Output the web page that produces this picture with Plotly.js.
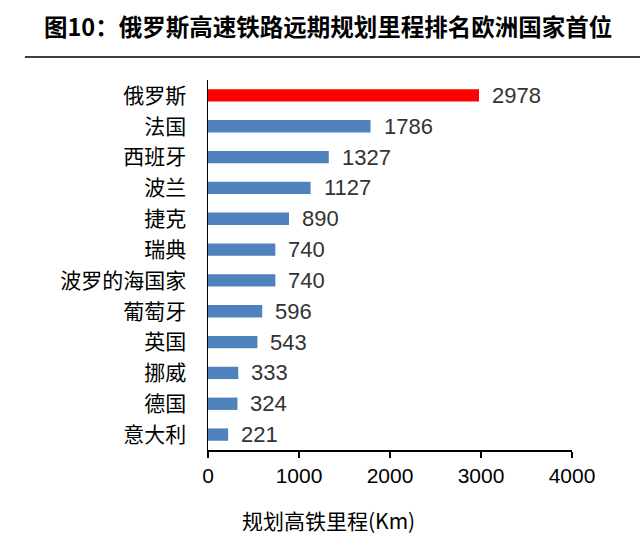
<!DOCTYPE html>
<html><head><meta charset="utf-8">
<script src="https://cdn.plot.ly/plotly-3.0.1.min.js"></script>
<style>html,body{margin:0;padding:0;background:#fff}</style>
</head><body>
<div id="chart" style="width:640px;height:556px"></div>
<script>
const categories = ["俄罗斯","法国","西班牙","波兰","捷克","瑞典","波罗的海国家","葡萄牙","英国","挪威","德国","意大利"];
const mileage = [2978,1786,1327,1127,890,740,740,596,543,333,324,221];
const tickVals = [0,1000,2000,3000,4000];
const titleText = "图<b>10</b>：俄罗斯高速铁路远期规划里程排名欧洲国家首位";
const xTitle = "规划高铁里程(Km)";

const colors = categories.map((c,i)=> i===0 ? "#FF0000" : "#4F81BD");
const cjk = '"Noto Sans CJK SC", "Liberation Sans", sans-serif';
const arial = '"Liberation Sans", Arial, sans-serif';

const trace = {
  type: "bar", orientation: "h",
  x: mileage, y: categories,
  marker: {color: colors},
  width: 0.4,
  hoverinfo: "none"
};

const annotations = categories.map((c,i)=>({
  x: mileage[i], y: c, xref: "x", yref: "y",
  text: String(mileage[i]), showarrow: false,
  xanchor: "left", xshift: 11,
  font: {family: arial, size: 22, color: "#333333"}
}));
annotations.push({
  xref: "paper", yref: "paper", x: 0.33, y: -0.19,
  xanchor: "center", yanchor: "middle",
  text: xTitle, showarrow: false,
  font: {family: cjk, size: 21, color: "#000"}
});
annotations.push({
  xref: "paper", yref: "paper", x: 0.33, y: 1.145,
  xanchor: "center", yanchor: "middle",
  text: titleText, showarrow: false,
  font: {family: cjk, size: 23.5, color: "#000", weight: "bold"}
});

const layout = {
  width: 640, height: 556,
  margin: {l: 208, r: 68, t: 80, b: 106},
  paper_bgcolor: "#fff", plot_bgcolor: "#fff",
  showlegend: false,
  xaxis: {
    range: [0, 4000], tickvals: tickVals, ticktext: tickVals.map(String),
    showgrid: false, zeroline: false,
    showline: true, linecolor: "#000", linewidth: 1.5,
    ticks: "outside", ticklen: 6, tickcolor: "#000", tickwidth: 1.5,
    tickfont: {family: arial, size: 21, color: "#000"},
    fixedrange: true
  },
  yaxis: {
    autorange: "reversed",
    showgrid: false, zeroline: false,
    showline: true, linecolor: "#000", linewidth: 1.5,
    ticks: "", ticklabelstandoff: 16,
    tickfont: {family: cjk, size: 21, color: "#000"},
    fixedrange: true
  },
  shapes: [{
    type: "line", xref: "paper", yref: "paper",
    x0: -0.503, x1: 1.19, y0: 1.062, y1: 1.062,
    line: {color: "#000", width: 1.5}
  }],
  annotations: annotations
};

Plotly.newPlot("chart", [trace], layout, {displayModeBar: false, staticPlot: true});
</script>
</body></html>
